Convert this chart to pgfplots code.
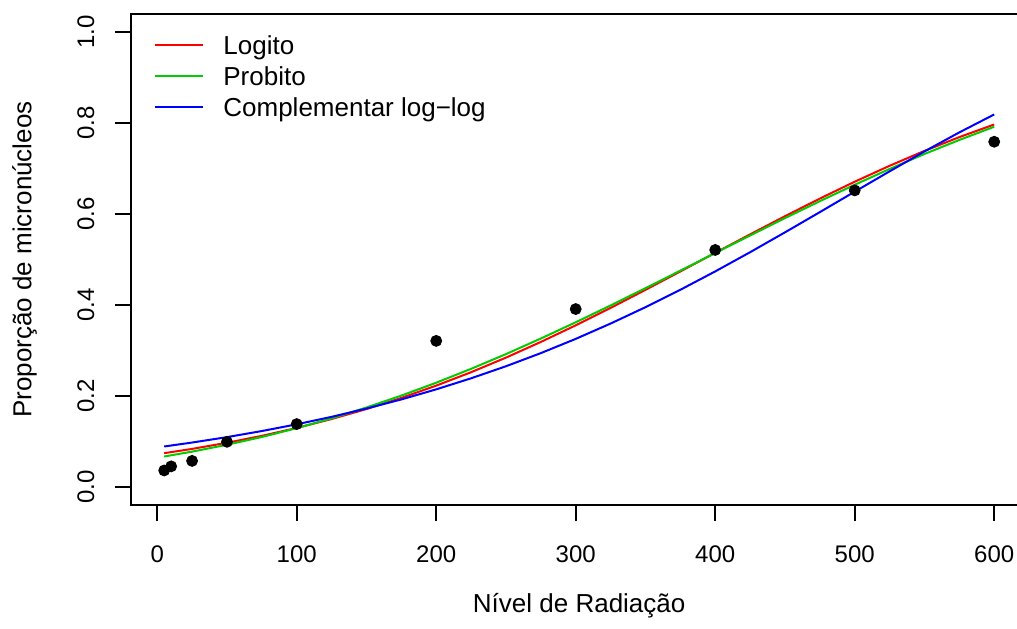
\documentclass[border=0pt]{standalone}
\usepackage{fontspec}
\setmainfont{Liberation Sans}
\usepackage{pgfplots}
\pgfplotsset{compat=1.18}
\definecolor{rred}{RGB}{255,0,0}
\definecolor{rgreen}{RGB}{0,205,0}
\definecolor{rblue}{RGB}{0,0,255}
\begin{document}
\fontsize{12}{14.4}\selectfont
\begin{tikzpicture}
\begin{axis}[
  scale only axis, width=448.2pt, height=245.5pt,
  xmin=-18.8, xmax=623.8, ymin=-0.04, ymax=1.04,
  axis line style={line width=1pt},
  tick align=outside, tick pos=left,
  major tick length=8pt,
  every tick/.style={black, line width=1pt},
  minor tick num=0,
  xtick={0,100,200,300,400,500,600},
  ytick={0,0.2,0.4,0.6,0.8,1.0},
  /pgf/number format/assume math mode=true,
  yticklabel style={rotate=90, anchor=south, inner sep=0pt, text height=8.6pt, text depth=0pt,
    /pgf/number format/.cd, fixed, fixed zerofill, precision=1},
  xticklabel style={anchor=north, inner sep=0pt, text height=8.6pt, text depth=0pt},
  xticklabel shift=11.7pt, yticklabel shift=10.2pt,
  xlabel={Nível de Radiação}, ylabel={Proporção de micronúcleos},
  x label style={at={(axis description cs:0.5,-0.1996)}, anchor=center, inner sep=0pt,
    font=\fontsize{13}{15.6}\selectfont, text height=9.3pt, text depth=0pt},
  y label style={at={(axis description cs:-0.1216,0.5)}, anchor=center, inner sep=0pt,
    font=\fontsize{13}{15.6}\selectfont, text height=9.3pt, text depth=0pt},
  legend style={draw=none, fill=none, at={(0.02566,0.9684)}, anchor=north west, inner sep=0pt,
    row sep=0pt, column sep=0pt, font=\fontsize{13}{15.6}\selectfont,
    nodes={inner sep=0pt, inner ysep=3.1pt, text height=9.3pt, text depth=0pt},
    cells={anchor=base west}},
  legend image code/.code={\path[draw=none,fill=none] (0pt,0pt) rectangle (34pt,9.3pt); \draw[#1] (0pt,4.65pt) -- (24pt,4.65pt);},
]
\addplot[only marks, mark=*, mark size=2.75pt, black, forget plot] coordinates {
(5,0.036) (10,0.045) (25,0.057) (50,0.099) (100,0.138) (200,0.321) (300,0.391) (400,0.521) (500,0.652) (600,0.759)
};
\addplot[rred, line width=1pt] coordinates {
(5,0.0740) (25,0.0834) (50,0.0969) (75,0.1121) (100,0.1295) (125,0.1491) (150,0.1711) (175,0.1955)
(200,0.2226) (225,0.2521) (250,0.2842) (275,0.3187) (300,0.3552) (325,0.3935) (350,0.4332) (375,0.4737)
(400,0.5146) (425,0.5553) (450,0.5952) (475,0.6340) (500,0.6711) (525,0.7061) (550,0.7389) (575,0.7692) (600,0.7970)
};
\addlegendentry{Logito}
\addplot[rgreen, line width=1pt] coordinates {
(5,0.0667) (25,0.0774) (50,0.0925) (75,0.1096) (100,0.1290) (125,0.1506) (150,0.1745) (175,0.2006)
(200,0.2290) (225,0.2595) (250,0.2919) (275,0.3262) (300,0.3619) (325,0.3989) (350,0.4369) (375,0.4754)
(400,0.5142) (425,0.5528) (450,0.5910) (475,0.6283) (500,0.6644) (525,0.6991) (550,0.7321) (575,0.7630) (600,0.7920)
};
\addlegendentry{Probito}
\addplot[rblue, line width=1pt] coordinates {
(5,0.0887) (25,0.0974) (50,0.1093) (75,0.1227) (100,0.1375) (125,0.1539) (150,0.1722) (175,0.1922)
(200,0.2144) (225,0.2387) (250,0.2652) (275,0.2941) (300,0.3254) (325,0.3591) (350,0.3951) (375,0.4334)
(400,0.4738) (425,0.5160) (450,0.5597) (475,0.6042) (500,0.6492) (525,0.6939) (550,0.7377) (575,0.7796) (600,0.8190)
};
\addlegendentry{Complementar log−log}
\end{axis}
\pgfresetboundingbox
\useasboundingbox (-65.5pt,-61.5pt) rectangle (443pt,252.5pt);
\end{tikzpicture}
\end{document}
